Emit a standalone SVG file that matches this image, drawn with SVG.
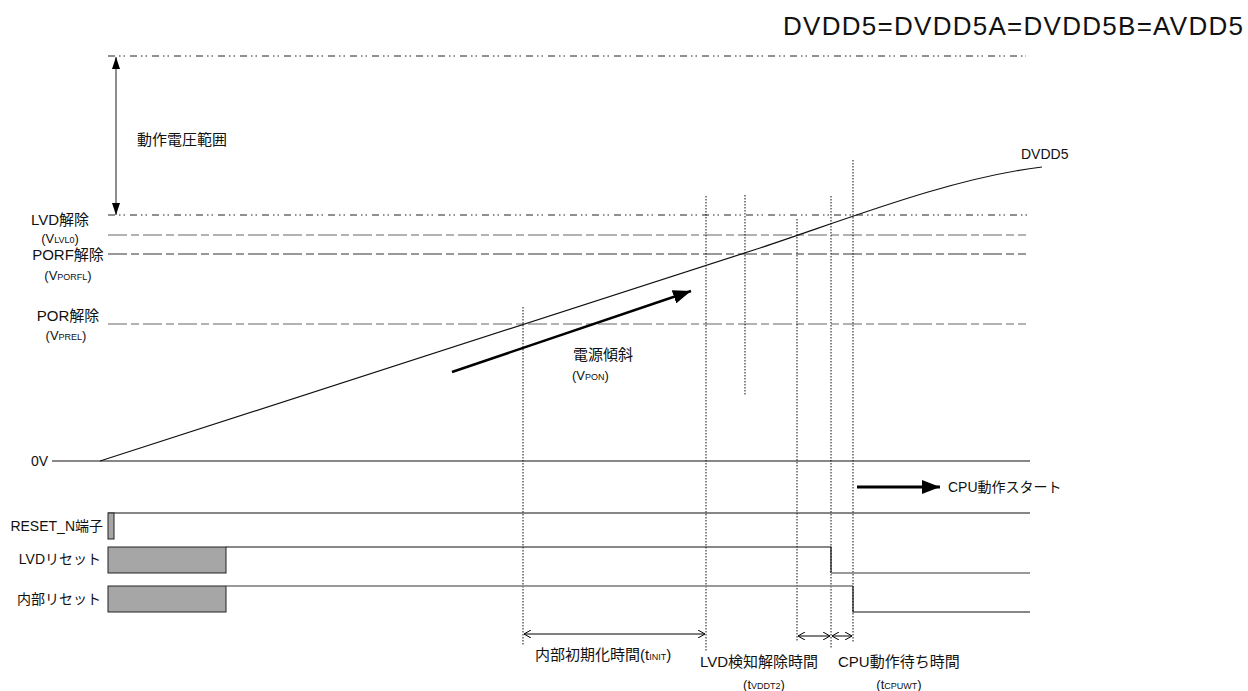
<svg xmlns="http://www.w3.org/2000/svg" width="1248" height="691" viewBox="0 0 1248 691">
<style>
text{font-family:"Liberation Sans","Noto Sans CJK JP",sans-serif;fill:#111}
.t15{font-size:15px}
.t14{font-size:14px}
.t13{font-size:13px}
.sub{font-size:9px}
.ddot{stroke:#222;stroke-width:1;stroke-dasharray:7 4 1.5 3 1.5 5;fill:none}
.ls{stroke-width:1.2;stroke-dasharray:19 4 8 4;fill:none}
.vdot{stroke:#111;stroke-width:1;stroke-dasharray:1.5 1.5;fill:none}
.sig{stroke:#111;stroke-width:1.2;fill:none}
.box{fill:#a6a6a6;stroke:#222;stroke-width:1}
</style>
<defs>
<marker id="fh" viewBox="0 0 12 8" refX="12" refY="4" markerWidth="12" markerHeight="8" markerUnits="userSpaceOnUse" orient="auto-start-reverse"><path d="M0,0 L12,4 L0,8 Z" fill="#000"/></marker>
<marker id="bh" viewBox="0 0 18 14" refX="18" refY="7" markerWidth="18" markerHeight="14" markerUnits="userSpaceOnUse" orient="auto"><path d="M0,0 L18,7 L0,14 Z" fill="#000"/></marker>
<marker id="oh" viewBox="0 0 7 8" refX="7" refY="4" markerWidth="7" markerHeight="8" markerUnits="userSpaceOnUse" orient="auto-start-reverse"><path d="M0,0 L7,4 L0,8" fill="none" stroke="#000" stroke-width="1"/></marker>
</defs>

<text id="title" x="783" y="35" style="font-size:26px" textLength="460">DVDD5=DVDD5A=DVDD5B=AVDD5</text>

<g id="levels">
<line class="ddot" x1="108" y1="56" x2="1026" y2="56"/>
<line class="ddot" x1="108" y1="215" x2="1028" y2="215"/>
<line class="ls" stroke="#666" x1="108" y1="235" x2="1026" y2="235"/>
<line class="ls" stroke="#333" x1="108" y1="254" x2="1026" y2="254"/>
<line class="ls" stroke="#666" x1="108" y1="324" x2="1026" y2="324"/>
<line class="sig" x1="52" y1="461" x2="1030" y2="461"/>
</g>

<g id="labels-left">
<text class="t15" x="60" y="225" text-anchor="middle">LVD解除</text>
<text class="t13" x="60" y="243" text-anchor="middle">(V<tspan class="sub">LVL0</tspan>)</text>
<text class="t15" x="68" y="260" text-anchor="middle">PORF解除</text>
<text class="t13" x="68" y="280" text-anchor="middle">(V<tspan class="sub">PORFL</tspan>)</text>
<text class="t15" x="68" y="321" text-anchor="middle">POR解除</text>
<text class="t13" x="66" y="340" text-anchor="middle">(V<tspan class="sub">PREL</tspan>)</text>
<text class="t14" x="48" y="466" text-anchor="end">0V</text>
<text class="t14" x="103" y="531" text-anchor="end">RESET_N端子</text>
<text class="t14" x="101" y="564" text-anchor="end">LVDリセット</text>
<text class="t14" x="101" y="604" text-anchor="end">内部リセット</text>
</g>

<g id="range">
<line x1="116" y1="57" x2="116" y2="215" stroke="#444" stroke-width="1.2" marker-start="url(#fh)" marker-end="url(#fh)"/>
<text class="t15" x="137" y="145">動作電圧範囲</text>
</g>

<g id="dvdd5">
<path d="M100,461 L760,248 C845,220 950,178 1042,167" fill="none" stroke="#111" stroke-width="1.2"/>
<text class="t14" x="1021" y="159">DVDD5</text>
</g>

<g id="slope">
<line x1="452" y1="372" x2="691" y2="291" stroke="#000" stroke-width="2.5" marker-end="url(#bh)"/>
<text class="t15" x="573" y="360">電源傾斜</text>
<text class="t13" x="572" y="380">(V<tspan class="sub">PON</tspan>)</text>
</g>

<g id="connectors">
<line class="vdot" x1="523" y1="307" x2="523" y2="645"/>
<line class="vdot" x1="706" y1="196" x2="706" y2="652"/>
<line class="vdot" stroke="#777" x1="745" y1="195" x2="745" y2="395"/>
<line class="vdot" x1="797" y1="219" x2="797" y2="642"/>
<line class="vdot" x1="831" y1="196" x2="831" y2="648"/>
<line class="vdot" x1="853" y1="160" x2="853" y2="642"/>
<line x1="524" y1="634" x2="705" y2="634" stroke="#000" stroke-width="1" marker-start="url(#oh)" marker-end="url(#oh)"/>
<line x1="798" y1="636" x2="830" y2="636" stroke="#000" stroke-width="1" marker-start="url(#oh)" marker-end="url(#oh)"/>
<line x1="832" y1="636" x2="852" y2="636" stroke="#000" stroke-width="1" marker-start="url(#oh)" marker-end="url(#oh)"/>
</g>

<g id="cpu-start">
<line x1="857" y1="487" x2="940" y2="487" stroke="#000" stroke-width="3" marker-end="url(#bh)"/>
<text class="t14" x="948" y="492">CPU動作スタート</text>
</g>

<g id="reset-n">
<line class="sig" x1="108" y1="513" x2="1030" y2="513"/>
<rect class="box" x="108" y="513" width="6" height="26"/>
</g>

<g id="lvd-reset">
<rect class="box" x="108" y="547" width="118" height="26"/>
<polyline class="sig" points="226,547 831,547 831,573"/>
<line x1="831" y1="573" x2="1030" y2="573" stroke="#777" stroke-width="1.4"/>
</g>

<g id="int-reset">
<rect class="box" x="108" y="586" width="118" height="26"/>
<line x1="226" y1="586" x2="853" y2="586" stroke="#777" stroke-width="1.4"/>
<polyline class="sig" points="853,586 853,612 1030,612"/>
</g>

<g id="timing-labels">
<text class="t15" x="535" y="660">内部初期化時間(t<tspan class="sub">INIT</tspan>)</text>
<text class="t15" x="700" y="667">LVD検知解除時間</text>
<text class="t13" x="764" y="689" text-anchor="middle">(t<tspan class="sub">VDDT2</tspan>)</text>
<text class="t15" x="838" y="667">CPU動作待ち時間</text>
<text class="t13" x="899" y="689" text-anchor="middle">(t<tspan class="sub">CPUWT</tspan>)</text>
</g>
</svg>
